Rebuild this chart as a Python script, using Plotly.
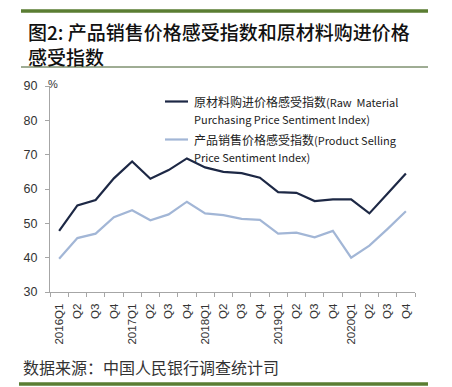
import plotly.graph_objects as go

# ---- data ----
categories = ["2016Q1", "2016Q2", "2016Q3", "2016Q4",
              "2017Q1", "2017Q2", "2017Q3", "2017Q4",
              "2018Q1", "2018Q2", "2018Q3", "2018Q4",
              "2019Q1", "2019Q2", "2019Q3", "2019Q4",
              "2020Q1", "2020Q2", "2020Q3", "2020Q4"]
tick_labels = ["2016Q1", "Q2", "Q3", "Q4",
               "2017Q1", "Q2", "Q3", "Q4",
               "2018Q1", "Q2", "Q3", "Q4",
               "2019Q1", "Q2", "Q3", "Q4",
               "2020Q1", "Q2", "Q3", "Q4"]
raw_material = [47.8, 55.2, 56.8, 63.1, 68.0, 63.0, 65.5, 68.9,
                66.3, 65.0, 64.6, 63.3, 59.1, 58.9, 56.5, 57.0,
                57.0, 52.9, 58.7, 64.5]
product_selling = [39.7, 45.7, 47.0, 51.8, 53.8, 50.9, 52.6, 56.3,
                   52.9, 52.4, 51.3, 51.0, 47.0, 47.3, 45.9, 47.8,
                   40.0, 43.5, 48.4, 53.5]
name_raw_cn, name_raw_en = "原材料购进价格感受指数", ["(Raw  Material", "Purchasing Price Sentiment Index)"]
name_prod_cn, name_prod_en = "产品销售价格感受指数", ["(Product Selling", "Price Sentiment Index)"]
y_ticks = [30, 40, 50, 60, 70, 80, 90]

W, H = 452, 387
L, R, T, B = 50, 37, 86, 95
PW, PH = W - L - R, H - T - B

def px(x):
    return (x - L) / PW

def py(y):
    return (H - B - y) / PH

DARK = "#1d2845"
LIGHT = "#a2b6d6"
GREEN = "#5a7d32"
CJK = "Noto Sans CJK SC"

fig = go.Figure()
fig.add_trace(go.Scatter(x=categories, y=raw_material, mode="lines",
                         name=name_raw_cn + "".join(name_raw_en),
                         line=dict(color=DARK, width=2.2), showlegend=False))
fig.add_trace(go.Scatter(x=categories, y=product_selling, mode="lines",
                         name=name_prod_cn + "".join(name_prod_en),
                         line=dict(color=LIGHT, width=2.2), showlegend=False))

shapes = [
    dict(type="line", xref="paper", yref="paper", x0=px(21), x1=px(428), y0=py(11), y1=py(11),
         line=dict(color=GREEN, width=3.5)),
    dict(type="line", xref="paper", yref="paper", x0=px(21), x1=px(428), y0=py(67), y1=py(67),
         line=dict(color="#3e5a28", width=1)),
    dict(type="line", xref="paper", yref="paper", x0=px(19), x1=px(428), y0=py(384), y1=py(384),
         line=dict(color=GREEN, width=3.5)),
    # legend samples
    dict(type="line", xref="paper", yref="paper", x0=px(165), x1=px(188), y0=py(101.5), y1=py(101.5),
         line=dict(color=DARK, width=2.2)),
    dict(type="line", xref="paper", yref="paper", x0=px(165), x1=px(188), y0=py(139.5), y1=py(139.5),
         line=dict(color=LIGHT, width=2.2)),
]

def leg(cn, en):
    return '<span style="font-size:12px">' + cn + '</span>' + en

annotations = [
    dict(text="图2: 产品销售价格感受指数和原材料购进价格<br>感受指数", xref="paper", yref="paper",
         x=px(26), y=py(44.5), xanchor="left", yanchor="middle", align="left", showarrow=False,
         font=dict(family=CJK, size=19, color="#111111", weight=500)),
    dict(text="数据来源：中国人民银行调查统计司", xref="paper", yref="paper",
         x=px(21), y=py(367), xanchor="left", yanchor="middle", showarrow=False,
         font=dict(family=CJK, size=16, color="#333333")),
    dict(text="%", xref="paper", yref="paper",
         x=px(46), y=py(84), xanchor="left", yanchor="middle", showarrow=False,
         font=dict(family="Arial", size=11, color="#333333")),
    dict(text=leg(name_raw_cn, name_raw_en[0]), xref="paper", yref="paper", x=px(192), y=py(101.5),
         xanchor="left", yanchor="middle", showarrow=False,
         font=dict(family=CJK, size=11, color="#222222")),
    dict(text=name_raw_en[1], xref="paper", yref="paper", x=px(192), y=py(119),
         xanchor="left", yanchor="middle", showarrow=False,
         font=dict(family=CJK, size=11, color="#222222")),
    dict(text=leg(name_prod_cn, name_prod_en[0]), xref="paper", yref="paper", x=px(192), y=py(139.5),
         xanchor="left", yanchor="middle", showarrow=False,
         font=dict(family=CJK, size=11, color="#222222")),
    dict(text=name_prod_en[1], xref="paper", yref="paper", x=px(192), y=py(157),
         xanchor="left", yanchor="middle", showarrow=False,
         font=dict(family=CJK, size=11, color="#222222")),
]

fig.update_layout(
    width=W, height=H,
    margin=dict(l=L, r=R, t=T, b=B, pad=0),
    paper_bgcolor="white", plot_bgcolor="white",
    shapes=shapes, annotations=annotations,
    xaxis=dict(type="category", tickmode="array", tickvals=categories, ticktext=tick_labels,
               tickangle=-90, tickson="boundaries", ticks="outside", ticklen=4,
               tickcolor="#a6a6a6", showline=True, linecolor="#a6a6a6", linewidth=1,
               showgrid=False, zeroline=False, range=[-0.5, 19.5], ticklabelstandoff=6,
               tickfont=dict(family="Arial", size=11.5, color="#333333")),
    yaxis=dict(range=[30, 90], tickmode="array", tickvals=y_ticks,
               ticks="outside", ticklen=4, tickcolor="#a6a6a6",
               showline=True, linecolor="#a6a6a6", linewidth=1,
               showgrid=False, zeroline=False, ticklabelstandoff=5,
               tickfont=dict(family="Arial", size=12.5, color="#333333")),
)

fig.write_html("out.html", config={"displayModeBar": False},
               post_script="document.body.style.margin='0';document.body.style.padding='0';")
